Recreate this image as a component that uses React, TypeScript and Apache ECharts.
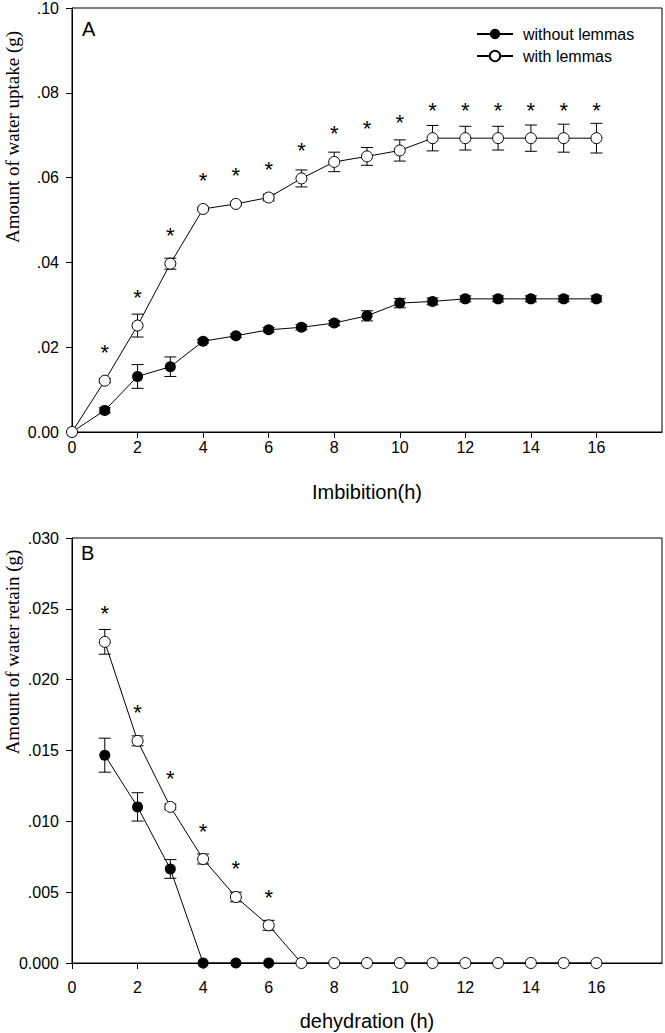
import React, { useEffect, useRef } from "react";
import * as echarts from "echarts";

// Panel A: imbibition
const hoursA = [0, 1, 2, 3, 4, 5, 6, 7, 8, 9, 10, 11, 12, 13, 14, 15, 16];
const withoutA = [0, 0.0051, 0.0131, 0.0154, 0.0214, 0.0227, 0.0241, 0.0247, 0.0257, 0.0274, 0.0304, 0.0308, 0.0314, 0.0314, 0.0314, 0.0314, 0.0314];
const withoutAErr = [0, 0.0006, 0.0028, 0.0023, 0.0004, 0.0004, 0.0005, 0.0006, 0.0006, 0.0012, 0.0011, 0.0008, 0.0007, 0.0007, 0.0007, 0.0007, 0.0007];
const withA = [0, 0.0121, 0.0251, 0.0397, 0.0526, 0.0538, 0.0553, 0.0598, 0.0637, 0.065, 0.0664, 0.0693, 0.0693, 0.0693, 0.0693, 0.0693, 0.0693];
const withAErr = [0, 0.0005, 0.0027, 0.0013, 0.0004, 0.0004, 0.0008, 0.002, 0.0023, 0.0021, 0.0025, 0.003, 0.0028, 0.0028, 0.0031, 0.0033, 0.0035];
const sigA = [1, 2, 3, 4, 5, 6, 7, 8, 9, 10, 11, 12, 13, 14, 15, 16];

// Panel B: dehydration
const hoursBWithout = [1, 2, 3, 4, 5, 6];
const withoutB = [0.01467, 0.01102, 0.00664, 0, 0, 0];
const withoutBErr = [0.0012, 0.001, 0.00066, 0, 0, 0];
const hoursBWith = [1, 2, 3, 4, 5, 6, 7, 8, 9, 10, 11, 12, 13, 14, 15, 16];
const withB = [0.02267, 0.01568, 0.01102, 0.00734, 0.00466, 0.00266, 0, 0, 0, 0, 0, 0, 0, 0, 0, 0];
const withBErr = [0.00087, 0.00035, 0.0002, 0.00035, 0.00034, 0.00035, 0, 0, 0, 0, 0, 0, 0, 0, 0, 0];
const sigB = [1, 2, 3, 4, 5, 6];

const SANS = "'Liberation Sans', Arial, sans-serif";
const SERIF = "'Liberation Serif', 'Times New Roman', serif";

function pairs(xs: number[], ys: number[]) {
  return xs.map((x, i) => [x, ys[i]]);
}
function triples(xs: number[], ys: number[], es: number[]) {
  return xs.map((x, i) => [x, ys[i], es[i]]);
}

function errRender(params: any, api: any) {
  const x = api.value(0);
  const y = api.value(1);
  const e = api.value(2);
  if (!e) return { type: "group", children: [] };
  const top = api.coord([x, y + e]);
  const bot = api.coord([x, y - e]);
  const hw = 6;
  const style = { stroke: "#000", lineWidth: 1 };
  return {
    type: "group",
    children: [
      { type: "line", shape: { x1: top[0], y1: top[1], x2: bot[0], y2: bot[1] }, style },
      { type: "line", shape: { x1: top[0] - hw, y1: top[1], x2: top[0] + hw, y2: top[1] }, style },
      { type: "line", shape: { x1: bot[0] - hw, y1: bot[1], x2: bot[0] + hw, y2: bot[1] }, style },
    ],
  };
}

function xAxisDef(gridIndex: number, margin: number) {
  return {
    type: "value",
    gridIndex,
    min: 0,
    max: 18,
    interval: 2,
    axisLine: { show: true, onZero: false, lineStyle: { color: "#000", width: 1 } },
    axisTick: { show: true, inside: false, length: 6, lineStyle: { color: "#000" } },
    axisLabel: { color: "#000", fontSize: 16, fontFamily: SANS, margin, showMaxLabel: false },
    splitLine: { show: false },
  };
}

function yAxisDef(gridIndex: number, max: number, interval: number, digits: number) {
  return {
    type: "value",
    gridIndex,
    min: 0,
    max,
    interval,
    axisLine: { show: true, lineStyle: { color: "#000", width: 1 } },
    axisTick: { show: true, inside: false, length: 6, lineStyle: { color: "#000" } },
    axisLabel: {
      color: "#000",
      fontSize: 16,
      fontFamily: SANS,
      margin: 13,
      formatter: (v: number) => (v === 0 ? (0).toFixed(digits) : v.toFixed(digits).replace(/^0/, "")),
    },
    splitLine: { show: false },
  };
}

function starLabel(sig: number[]) {
  return {
    show: true,
    position: "top",
    distance: 11,
    fontSize: 22,
    fontFamily: SANS,
    color: "#000",
    formatter: (p: any) => (sig.indexOf(p.data[0]) >= 0 ? "*" : ""),
  };
}

export default function App() {
  const ref = useRef<HTMLDivElement>(null);
  useEffect(() => {
    if (!ref.current) return;
    const chart = echarts.init(ref.current, null, { renderer: "svg" });
    const filled = {
      symbol: "circle",
      symbolSize: 11,
      itemStyle: { color: "#000" },
      lineStyle: { color: "#000", width: 1 },
    };
    const open = {
      symbol: "circle",
      symbolSize: 11,
      itemStyle: { color: "#fff", borderColor: "#000", borderWidth: 1 },
      lineStyle: { color: "#000", width: 1 },
    };
    chart.setOption({
      animation: false,
      backgroundColor: "#fff",
      grid: [
        { left: 72, top: 7, width: 590, height: 425, show: true, borderColor: "#000", borderWidth: 1, backgroundColor: "transparent" },
        { left: 72, top: 538, width: 590, height: 425, show: true, borderColor: "#000", borderWidth: 1, backgroundColor: "transparent" },
      ],
      xAxis: [xAxisDef(0, 7), xAxisDef(1, 16)],
      yAxis: [yAxisDef(0, 0.1, 0.02, 2), yAxisDef(1, 0.03, 0.005, 3)],
      legend: {
        data: ["without lemmas", "with lemmas"],
        orient: "vertical",
        left: 476,
        top: 26,
        padding: 0,
        itemWidth: 36,
        itemHeight: 13,
        itemGap: 6,
        textStyle: { fontSize: 16, fontFamily: SANS, color: "#000", padding: [0, 0, 0, 5] },
      },
      graphic: [
        { type: "text", left: 82, top: 19, style: { text: "A", fontSize: 20, fontFamily: SANS, fill: "#000" } },
        { type: "text", left: 81, top: 543, style: { text: "B", fontSize: 20, fontFamily: SANS, fill: "#000" } },
        {
          type: "text", x: 12, y: 137, rotation: Math.PI / 2,
          style: { text: "Amount of water uptake (g)", fontSize: 19, fontFamily: SERIF, fill: "#000", align: "center", verticalAlign: "middle" },
        },
        {
          type: "text", x: 12, y: 652, rotation: Math.PI / 2,
          style: { text: "Amount of water retain (g)", fontSize: 19, fontFamily: SERIF, fill: "#000", align: "center", verticalAlign: "middle" },
        },
        {
          type: "text", x: 367, y: 492,
          style: { text: "Imbibition(h)", fontSize: 20, fontFamily: SANS, fill: "#000", align: "center", verticalAlign: "middle" },
        },
        {
          type: "text", x: 367, y: 1021,
          style: { text: "dehydration (h)", fontSize: 20, fontFamily: SANS, fill: "#000", align: "center", verticalAlign: "middle" },
        },
      ],
      series: [
        { type: "custom", xAxisIndex: 0, yAxisIndex: 0, z: 1, renderItem: errRender, encode: { x: 0, y: 1 }, data: triples(hoursA, withoutA, withoutAErr), silent: true },
        { type: "custom", xAxisIndex: 0, yAxisIndex: 0, z: 1, renderItem: errRender, encode: { x: 0, y: 1 }, data: triples(hoursA, withA, withAErr), silent: true },
        { type: "custom", xAxisIndex: 1, yAxisIndex: 1, z: 1, renderItem: errRender, encode: { x: 0, y: 1 }, data: triples(hoursBWithout, withoutB, withoutBErr), silent: true },
        { type: "custom", xAxisIndex: 1, yAxisIndex: 1, z: 1, renderItem: errRender, encode: { x: 0, y: 1 }, data: triples(hoursBWith, withB, withBErr), silent: true },
        { name: "without lemmas", type: "line", xAxisIndex: 0, yAxisIndex: 0, z: 3, data: pairs(hoursA, withoutA), ...filled },
        { name: "with lemmas", type: "line", xAxisIndex: 0, yAxisIndex: 0, z: 4, data: pairs(hoursA, withA), ...open, label: starLabel(sigA) },
        { name: "without lemmas", type: "line", xAxisIndex: 1, yAxisIndex: 1, z: 3, data: pairs(hoursBWithout, withoutB), ...filled },
        { name: "with lemmas", type: "line", xAxisIndex: 1, yAxisIndex: 1, z: 4, data: pairs(hoursBWith, withB), ...open, label: starLabel(sigB) },
      ],
    });
    return () => chart.dispose();
  }, []);
  return (
    <div
      ref={ref}
      style={{ position: "fixed", left: 0, top: 0, width: 665, height: 1033, background: "#fff" }}
    />
  );
}
